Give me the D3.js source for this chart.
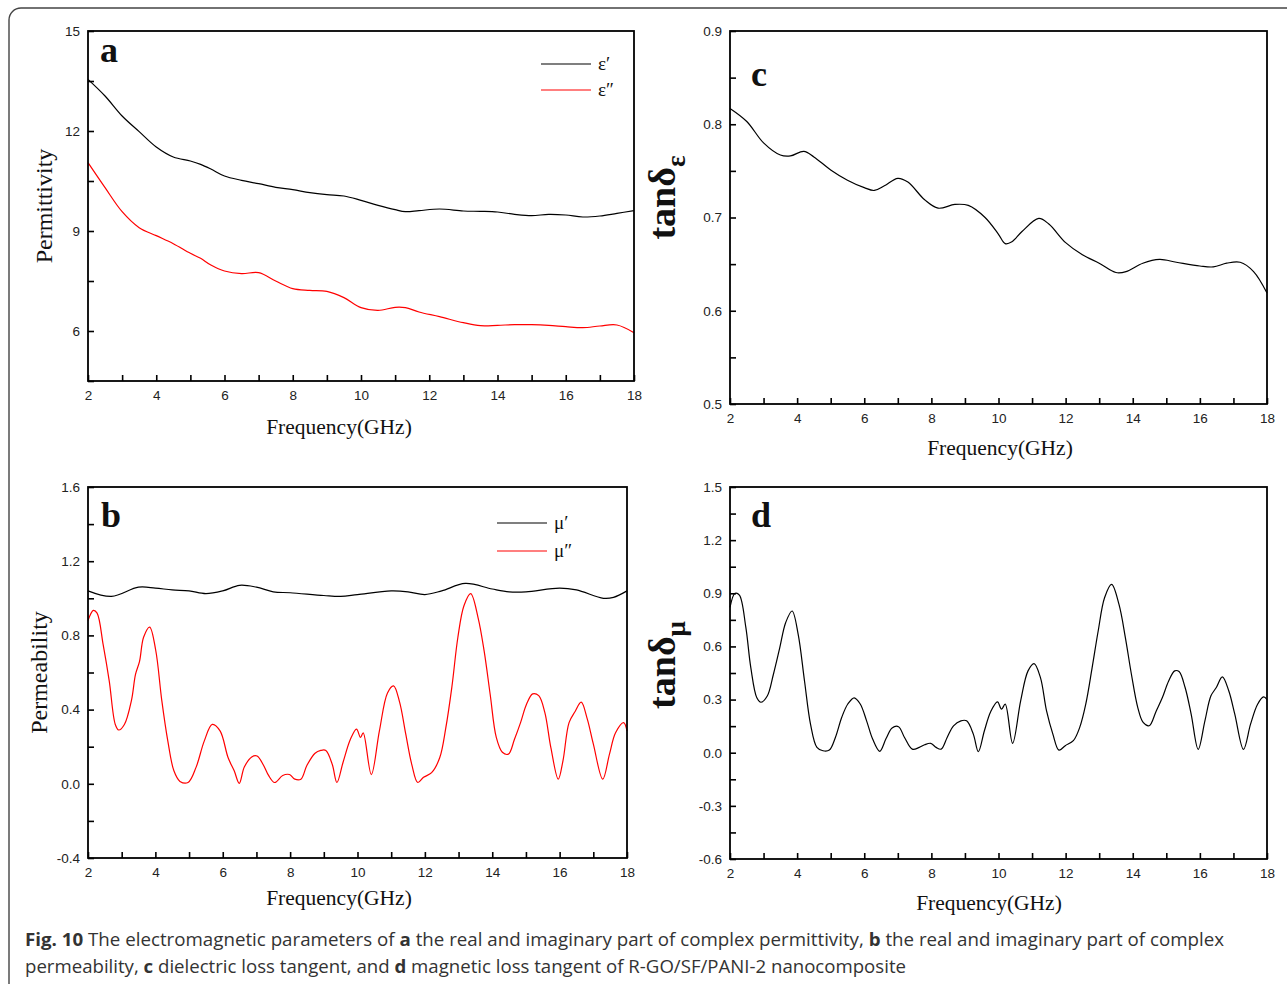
<!DOCTYPE html>
<html>
<head>
<meta charset="utf-8">
<title>Fig. 10 electromagnetic parameters</title>
<script src="https://d3js.org/d3.v7.min.js"></script>
<style>
  body { margin: 0; background: #fff; }
  svg { display: block; }
  .tick text { font-family: "Liberation Sans", Arial, sans-serif; font-size: 13.5px; fill: #222; }
  .tick line { stroke: #000; stroke-width: 1.6; }
  .title { font-family: "Liberation Serif", "Times New Roman", serif; fill: #111; }
  .caption { font-family: "Open Sans", sans-serif; font-size: 18px; fill: #333; }
</style>
</head>
<body>
<svg width="1287" height="984"></svg>
<script>
// ---- data ----
const freqA   = [2,2.5,3,3.5,4,4.5,5,5.3,5.6,6,6.5,7,7.5,8,8.5,9,9.5,10,10.5,11,11.3,11.7,12.3,13,13.5,14,14.5,15,15.5,16,16.5,17,17.5,18];
const epsReal = [13.55,13.05,12.45,11.98,11.52,11.22,11.1,11.0,10.86,10.65,10.52,10.42,10.31,10.24,10.15,10.09,10.05,9.92,9.77,9.64,9.58,9.61,9.66,9.6,9.59,9.57,9.5,9.46,9.5,9.48,9.42,9.45,9.53,9.61];
const epsImag = [11.05,10.3,9.58,9.1,8.86,8.62,8.33,8.18,7.98,7.8,7.72,7.75,7.5,7.27,7.22,7.19,7.0,6.7,6.62,6.71,6.7,6.57,6.43,6.25,6.16,6.17,6.19,6.19,6.17,6.13,6.1,6.15,6.18,5.95];

const freqC = [2,2.5,3,3.5,3.8,4.2,4.5,5,5.5,6,6.3,6.6,7,7.3,7.8,8.2,8.7,9.1,9.6,10,10.2,10.4,10.7,11.2,11.5,12,12.5,13,13.5,13.8,14.3,14.8,15.3,16,16.4,16.8,17.2,17.6,18];
const tanEps = [0.817,0.803,0.780,0.767,0.766,0.771,0.765,0.751,0.740,0.732,0.729,0.734,0.742,0.738,0.719,0.710,0.714,0.713,0.700,0.682,0.672,0.674,0.685,0.699,0.693,0.673,0.660,0.651,0.641,0.642,0.651,0.655,0.652,0.648,0.647,0.651,0.652,0.642,0.619];

const freqMuR = [2,2.7,3.5,4,4.5,5,5.5,6,6.5,7,7.5,8,9,9.5,10,11,11.5,12,12.5,13.2,14,14.5,15,16,16.5,17.3,17.6,18];
const muReal  = [1.04,1.01,1.06,1.055,1.045,1.04,1.025,1.04,1.07,1.06,1.035,1.03,1.015,1.01,1.02,1.04,1.035,1.02,1.04,1.08,1.05,1.035,1.035,1.055,1.045,1.0,1.005,1.04];

const freqMuI = [2.0,2.16,2.27,2.45,2.63,2.81,2.91,3.08,3.29,3.41,3.53,3.65,3.83,4.01,4.19,4.37,4.55,4.73,4.97,5.21,5.45,5.69,5.92,6.16,6.34,6.49,6.64,6.86,7.02,7.21,7.36,7.54,7.78,7.98,8.14,8.32,8.5,8.74,8.91,9.06,9.25,9.39,9.57,9.79,9.97,10.09,10.17,10.41,10.65,10.89,11.07,11.25,11.43,11.61,11.79,11.96,12.2,12.44,12.62,12.8,12.98,13.16,13.36,13.58,13.76,13.94,14.12,14.3,14.48,14.66,14.84,15.02,15.2,15.38,15.56,15.74,15.96,16.1,16.28,16.46,16.64,16.82,17.0,17.28,17.48,17.66,17.9,18.0];
const muImag  = [0.88,0.935,0.92,0.75,0.555,0.32,0.29,0.32,0.45,0.59,0.66,0.79,0.845,0.72,0.45,0.23,0.07,0.013,0.007,0.09,0.23,0.32,0.285,0.14,0.07,0.002,0.09,0.145,0.15,0.10,0.045,0.007,0.045,0.05,0.025,0.025,0.1,0.165,0.18,0.18,0.105,0.007,0.115,0.24,0.295,0.25,0.275,0.05,0.285,0.49,0.528,0.44,0.27,0.105,0.007,0.035,0.06,0.14,0.30,0.52,0.79,0.96,1.025,0.895,0.715,0.48,0.25,0.17,0.16,0.24,0.33,0.43,0.485,0.475,0.385,0.195,0.025,0.125,0.33,0.39,0.44,0.35,0.215,0.025,0.16,0.275,0.33,0.285];

const freqD = [2.0,2.15,2.28,2.47,2.62,2.8,2.92,3.11,3.29,3.48,3.66,3.85,4.03,4.22,4.4,4.59,4.77,4.96,5.14,5.33,5.51,5.7,5.88,6.07,6.25,6.46,6.65,6.83,7.02,7.2,7.43,7.64,7.8,7.98,8.14,8.29,8.47,8.66,8.88,9.05,9.25,9.4,9.58,9.77,9.97,10.09,10.2,10.42,10.66,10.88,11.06,11.25,11.43,11.62,11.8,11.99,12.23,12.42,12.6,12.79,12.97,13.16,13.37,13.59,13.78,13.96,14.15,14.31,14.49,14.7,14.88,15.07,15.25,15.38,15.56,15.74,15.95,16.15,16.33,16.49,16.67,16.86,17.04,17.3,17.51,17.72,17.9,18.0];
const tanMu = [0.82,0.90,0.89,0.71,0.48,0.31,0.285,0.32,0.44,0.59,0.735,0.80,0.67,0.405,0.16,0.03,0.011,0.015,0.086,0.2,0.275,0.31,0.275,0.18,0.077,0.008,0.08,0.14,0.147,0.086,0.02,0.03,0.045,0.053,0.03,0.02,0.086,0.152,0.18,0.18,0.105,0.006,0.124,0.233,0.287,0.246,0.274,0.053,0.293,0.462,0.503,0.424,0.237,0.105,0.015,0.04,0.068,0.143,0.274,0.48,0.687,0.875,0.95,0.837,0.65,0.443,0.255,0.171,0.152,0.236,0.31,0.405,0.462,0.458,0.368,0.218,0.019,0.18,0.321,0.368,0.428,0.35,0.218,0.019,0.161,0.274,0.315,0.30];

const xTickLabels = [2,4,6,8,10,12,14,16,18];

const svg = d3.select("svg");

// outer figure frame
svg.append("rect")
    .attr("x", 9).attr("y", 8)
    .attr("width", 1300).attr("height", 1000)
    .attr("rx", 12)
    .attr("fill", "none")
    .attr("stroke", "#444")
    .attr("stroke-width", 1.4);

function isMajor(v, step) {
    return Math.abs(Math.round(v / step) * step - v) < 1e-6;
}

function drawPanel(p) {
    const x = d3.scaleLinear().domain([2, 18]).range([p.left, p.right]);
    const y = d3.scaleLinear().domain(p.yDomain).range([p.bottom, p.top]);
    const g = svg.append("g");

    // x axis, ticks pointing inward
    const xAx = d3.axisBottom(x)
        .tickValues(d3.range(2, 18.01, 1))
        .tickSizeInner(-6).tickSizeOuter(0).tickPadding(9)
        .tickFormat(d => xTickLabels.includes(d) ? d : "");
    g.append("g").attr("transform", `translate(0,${p.bottom})`).call(xAx)
        .call(a => a.select(".domain").remove());

    const yticks = d3.range(p.yDomain[0], p.yDomain[1] + p.yMinor / 2, p.yMinor);
    const yAx = d3.axisLeft(y)
        .tickValues(yticks)
        .tickSizeInner(-6).tickSizeOuter(0).tickPadding(8)
        .tickFormat(d => isMajor(d, p.yMajor) ? p.fmt(d) : "");
    g.append("g").attr("transform", `translate(${p.left},0)`).call(yAx)
        .call(a => a.select(".domain").remove());

    // lines
    const line = d3.line()
        .x(d => x(d[0])).y(d => y(d[1]))
        .curve(d3.curveCatmullRom.alpha(0.5));
    p.series.forEach(s => {
        g.append("path")
            .datum(d3.zip(s.x, s.y))
            .attr("fill", "none")
            .attr("stroke", s.color)
            .attr("stroke-width", 1.2)
            .attr("d", line);
    });

    // frame
    g.append("rect")
        .attr("x", p.left).attr("y", p.top)
        .attr("width", p.right - p.left).attr("height", p.bottom - p.top)
        .attr("fill", "none").attr("stroke", "#000").attr("stroke-width", 1.8);

    // panel letter
    g.append("text").attr("class", "title")
        .attr("x", p.left + p.letterDx).attr("y", p.letterY)
        .style("font-size", "36px").style("font-weight", "bold")
        .text(p.letter);

    // x title
    g.append("text").attr("class", "title")
        .attr("x", p.xTitleX).attr("y", p.xTitleY)
        .attr("text-anchor", "middle")
        .style("font-size", "21.5px")
        .text("Frequency(GHz)");

    // y title
    const yt = g.append("text").attr("class", "title")
        .attr("transform", `translate(${p.yTitleX},${(p.top + p.bottom) / 2 + p.yTitleShift}) rotate(-90)`)
        .attr("text-anchor", "middle");
    if (p.yTitleSub) {
        yt.style("font-size", "38px").style("font-weight", "bold");
        yt.append("tspan").text(p.yTitle);
        yt.append("tspan").attr("dy", 10).style("font-size", "27px").text(p.yTitleSub);
    } else {
        yt.style("font-size", "24px").text(p.yTitle);
    }

    // legend
    if (p.legend) {
        p.legend.forEach((l, i) => {
            const ly = p.legendY + i * p.legendGap;
            g.append("line")
                .attr("x1", p.legendX).attr("x2", p.legendX + 50)
                .attr("y1", ly).attr("y2", ly)
                .attr("stroke", l.color).attr("stroke-width", 1.2);
            g.append("text").attr("class", "title")
                .attr("x", p.legendX + 57).attr("y", ly + 6)
                .style("font-size", "19px")
                .text(l.label);
        });
    }
}

drawPanel({
    left: 88, right: 634, top: 31, bottom: 381,
    yDomain: [4.5, 15], yMinor: 1.5, yMajor: 3, fmt: d => d3.format("d")(d),
    series: [{x: freqA, y: epsReal, color: "#000"}, {x: freqA, y: epsImag, color: "#f00"}],
    letter: "a", letterDx: 12, letterY: 62, xTitleX: 339, xTitleY: 434,
    yTitle: "Permittivity", yTitleX: 52, yTitleShift: 0,
    legend: [{label: "ε′", color: "#000"}, {label: "ε″", color: "#f00"}],
    legendX: 541, legendY: 64, legendGap: 26
});

drawPanel({
    left: 730, right: 1267, top: 31, bottom: 404,
    yDomain: [0.5, 0.9], yMinor: 0.05, yMajor: 0.1, fmt: d => d.toFixed(1),
    series: [{x: freqC, y: tanEps, color: "#000"}],
    letter: "c", letterDx: 21, letterY: 86, xTitleX: 1000, xTitleY: 455,
    yTitle: "tanδ", yTitleSub: "ε", yTitleX: 675, yTitleShift: -20
});

drawPanel({
    left: 88, right: 627, top: 487, bottom: 858,
    yDomain: [-0.4, 1.6], yMinor: 0.2, yMajor: 0.4, fmt: d => d.toFixed(1),
    series: [{x: freqMuR, y: muReal, color: "#000"}, {x: freqMuI, y: muImag, color: "#f00"}],
    letter: "b", letterDx: 13, letterY: 527, xTitleX: 339, xTitleY: 905,
    yTitle: "Permeability", yTitleX: 47, yTitleShift: 0,
    legend: [{label: "μ′", color: "#000"}, {label: "μ″", color: "#f00"}],
    legendX: 497, legendY: 523, legendGap: 28
});

drawPanel({
    left: 730, right: 1267, top: 487, bottom: 859,
    yDomain: [-0.6, 1.5], yMinor: 0.15, yMajor: 0.3, fmt: d => d.toFixed(1),
    series: [{x: freqD, y: tanMu, color: "#000"}],
    letter: "d", letterDx: 21, letterY: 527, xTitleX: 989, xTitleY: 910,
    yTitle: "tanδ", yTitleSub: "μ", yTitleX: 675, yTitleShift: -8
});

// caption
const capLines = [
    [["Fig. 10", true], [" The electromagnetic parameters of ", false], ["a", true], [" the real and imaginary part of complex permittivity, ", false], ["b", true], [" the real and imaginary part of complex", false]],
    [["permeability, ", false], ["c", true], [" dielectric loss tangent, and ", false], ["d", true], [" magnetic loss tangent of R-GO/SF/PANI-2 nanocomposite", false]]
];
const capWidths = [1199, 881];
capLines.forEach((ln, i) => {
    const t = svg.append("text").attr("class", "caption")
        .attr("x", 25).attr("y", 946 + i * 27)
        .attr("textLength", capWidths[i])
        .attr("lengthAdjust", "spacingAndGlyphs");
    ln.forEach(([s, b]) => t.append("tspan").style("font-weight", b ? "bold" : "normal").text(s));
});
</script>
</body>
</html>
